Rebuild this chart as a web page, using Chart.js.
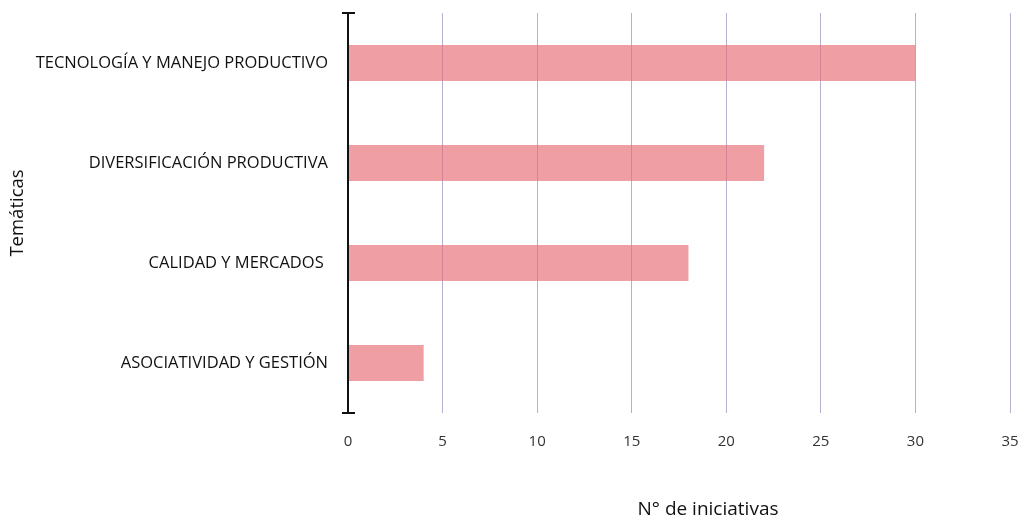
<!DOCTYPE html>
<html>
<head>
<meta charset="utf-8">
<script src="https://cdn.jsdelivr.net/npm/chart.js@4/dist/chart.umd.min.js"></script>
<style>
    body { margin: 0; background: #fff; }
    #wrap { width: 1027px; height: 522px; position: relative; }
</style>
</head>
<body>
<div id="wrap"><canvas id="chart"></canvas></div>
<script>
// Chart data
const categories = [
    'TECNOLOGÍA Y MANEJO PRODUCTIVO',
    'DIVERSIFICACIÓN PRODUCTIVA',
    'CALIDAD Y MERCADOS ',
    'ASOCIATIVIDAD Y GESTIÓN'
];
const initiatives = [30, 22, 18, 4];
const xTicks = [0, 5, 10, 15, 20, 25, 30, 35];

const yTitle = 'Temáticas';
const xTitle = 'N° de iniciativas';

// Black axis line with end caps, plus the x title
const axisPlugin = {
    id: 'axisCaps',
    afterDatasetsDraw(chart) {
        const ctx = chart.ctx;
        const area = chart.chartArea;
        const x = chart.scales.x.getPixelForValue(0);
        ctx.save();
        ctx.strokeStyle = '#111';
        ctx.lineWidth = 2;
        ctx.beginPath();
        ctx.moveTo(x, area.top);
        ctx.lineTo(x, area.bottom);
        ctx.moveTo(x - 6, area.top);
        ctx.lineTo(x + 7, area.top);
        ctx.moveTo(x - 6, area.bottom);
        ctx.lineTo(x + 7, area.bottom);
        ctx.stroke();

        ctx.fillStyle = '#111';
        ctx.font = '19px "Open Sans"';
        ctx.textAlign = 'center';
        ctx.textBaseline = 'middle';
        ctx.fillText(xTitle, 708, 510);
        ctx.restore();
    }
};

const ctx = document.getElementById('chart').getContext('2d');
new Chart(ctx, {
    type: 'bar',
    data: {
        labels: categories,
        datasets: [{
            data: initiatives,
            backgroundColor: 'rgba(230, 106, 113, 0.65)',
            borderWidth: 0,
            barPercentage: 0.36,
            categoryPercentage: 1
        }]
    },
    options: {
        indexAxis: 'y',
        responsive: true,
        maintainAspectRatio: false,
        animation: false,
        layout: {
            padding: { top: 13, right: 17, left: 0, bottom: 0 }
        },
        plugins: {
            legend: { display: false },
            tooltip: { enabled: false }
        },
        scales: {
            x: {
                min: 0,
                max: 35,
                afterBuildTicks: (scale) => {
                    scale.ticks = xTicks.map(v => ({ value: v }));
                },
                afterFit: (scale) => {
                    scale.height = 109;
                    scale.paddingLeft = 0;
                    scale.paddingRight = 0;
                },
                grid: {
                    color: 'rgba(90, 80, 160, 0.45)',
                    lineWidth: 1,
                    drawTicks: false
                },
                border: { display: false },
                ticks: {
                    padding: 20,
                    color: '#333',
                    font: { family: 'Open Sans', size: 15 }
                }
            },
            y: {
                afterFit: (scale) => {
                    scale.width = 348;
                    scale.paddingTop = 0;
                    scale.paddingBottom = 0;
                },
                grid: { display: false, drawTicks: false },
                border: { display: false },
                ticks: {
                    padding: 20,
                    color: '#111',
                    font: { family: 'Open Sans', size: 16.5 }
                },
                title: {
                    display: true,
                    text: yTitle,
                    color: '#111',
                    padding: { top: 7, bottom: 0 },
                    font: { family: 'Open Sans', size: 18.5 }
                }
            }
        }
    },
    plugins: [axisPlugin]
});
</script>
</body>
</html>
